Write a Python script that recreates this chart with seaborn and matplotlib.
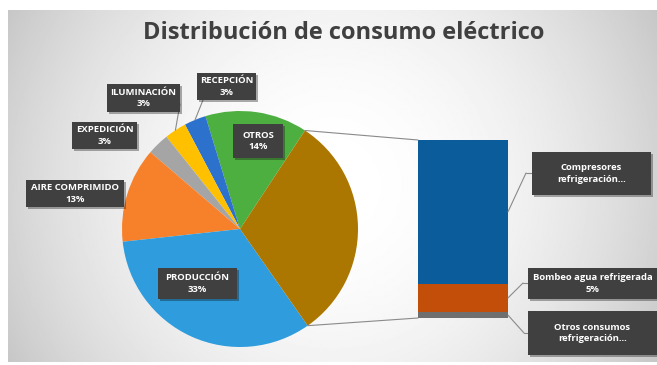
import numpy as np
import matplotlib
matplotlib.use("Agg")
import matplotlib.pyplot as plt
import matplotlib.patheffects as pe
from matplotlib.patches import Rectangle, ConnectionPatch
from matplotlib.lines import Line2D
import seaborn as sns

# Electricity consumption shares (%), counter-clockwise order around the pie
categories = ["OTROS", "RECEPCIÓN", "ILUMINACIÓN", "EXPEDICIÓN",
              "AIRE COMPRIMIDO", "PRODUCCIÓN", "REFRIGERACIÓN"]
shares = [14, 3, 3, 3, 13, 33, 31]
pie_colors = ["#4DAF3F", "#2C72CC", "#FFC000", "#A5A5A5",
              "#F7812B", "#2E9CDD", "#AC7700"]

# Breakdown of the refrigeration slice, bottom to top of the stacked bar
refrig_parts = ["Otros consumos refrigeración", "Bombeo agua refrigerada",
                "Compresores refrigeración"]
refrig_shares = [1, 5, 25]
refrig_colors = ["#6F6F6F", "#C24E0A", "#0B5C9B"]

sns.set_theme(style="white")
plt.rcParams["font.family"] = ["Open Sans", "DejaVu Sans"]

W, H = 657, 365
fig = plt.figure(figsize=(W / 100, H / 100), dpi=100)
fig.patch.set_facecolor("white")


def fx(x):
    return x / W


def fy(y):
    return 1 - y / H


# soft radial backdrop
bg = fig.add_axes([0, 0, 1, 1], zorder=-10)
gx = np.linspace(-1, 1, 600)
gy = np.linspace(-1, 1, 300)
XX, YY = np.meshgrid(gx, gy)
shade = 1 - 0.17 * XX ** 2 - 0.05 * YY ** 2
bg.imshow(shade, cmap="gray", vmin=0, vmax=1, aspect="auto",
          extent=(8, 657, 362, 10), interpolation="bilinear")
bg.set_xlim(0, W)
bg.set_ylim(H, 0)
bg.axis("off")

fig.text(fx(344), fy(33), "Distribución de consumo eléctrico", ha="center",
         va="center", fontsize=17, fontweight="bold", color="#404040")

# pie
cx, cy, r = 240, 229, 118
ax_pie = fig.add_axes([fx(cx - r), fy(cy + r), 2 * r / W, 2 * r / H])
wedges, _ = ax_pie.pie(shares, colors=pie_colors, startangle=56.6,
                       counterclock=True, radius=1,
                       wedgeprops=dict(linewidth=0))
ax_pie.set_xlim(-1, 1)
ax_pie.set_ylim(-1, 1)
ax_pie.set_aspect("equal")
ax_pie.axis("off")

# stacked bar for the refrigeration breakdown
ax_bar = fig.add_axes([fx(418), fy(318), 90 / W, 178 / H])
bottoms = np.concatenate([[0], np.cumsum(refrig_shares)[:-1]])
ax_bar.bar(0, refrig_shares, bottom=bottoms, width=1,
           color=refrig_colors, linewidth=0)
ax_bar.set_xlim(-0.5, 0.5)
ax_bar.set_ylim(0, sum(refrig_shares))
ax_bar.axis("off")

line_kw = dict(color="#8a8a8a", lw=0.8)

# connectors from the refrigeration wedge to the bar
ref = wedges[-1]
for ang, ybar in [(ref.theta2, sum(refrig_shares)), (ref.theta1, 0)]:
    t = np.deg2rad(ang)
    con = ConnectionPatch(xyA=(np.cos(t), np.sin(t)), coordsA="data", axesA=ax_pie,
                          xyB=(-0.5, ybar), coordsB="data", axesB=ax_bar, **line_kw)
    fig.add_artist(con)


def add_box(x0, y0, x1, y1, text):
    rect = Rectangle((fx(x0), fy(y1)), (x1 - x0) / W, (y1 - y0) / H,
                     transform=fig.transFigure, facecolor="#404040",
                     edgecolor="none", zorder=5,
                     path_effects=[pe.SimplePatchShadow(offset=(1.5, -1.5),
                                                        alpha=0.35),
                                   pe.Normal()])
    fig.add_artist(rect)
    fig.text(fx((x0 + x1) / 2), fy((y0 + y1) / 2), text, ha="center",
             va="center", fontsize=6.8, fontweight="bold", color="white",
             linespacing=1.4, zorder=6)


# pie labels: box extents in pixels, optional leader start point
pie_boxes = {
    "OTROS": ((233, 124, 283, 158), None),
    "RECEPCIÓN": ((197, 73, 256, 100), (203, 100)),
    "ILUMINACIÓN": ((107, 84, 180, 112), (180, 104)),
    "EXPEDICIÓN": ((72, 122, 137, 149), None),
    "AIRE COMPRIMIDO": ((26, 180, 124, 207), None),
    "PRODUCCIÓN": ((158, 268, 237, 299), None),
}
for name, val, w in zip(categories, shares, wedges):
    if name not in pie_boxes:
        continue
    box, lead = pie_boxes[name]
    add_box(*box, f"{name}\n{val}%")
    if lead is not None:
        t = np.deg2rad((w.theta1 + w.theta2) / 2)
        con = ConnectionPatch(xyA=(fx(lead[0]), fy(lead[1])), coordsA="figure fraction",
                              xyB=(np.cos(t), np.sin(t)), coordsB="data",
                              axesB=ax_pie, zorder=4, **line_kw)
        fig.add_artist(con)

# bar labels with elbow leaders
bar_boxes = [
    ((528, 311, 657, 355), (524, 333), "Otros consumos\nrefrigeración..."),
    ((528, 268, 657, 299), (523, 283),
     f"{refrig_parts[1]}\n{refrig_shares[1]}%"),
    ((532, 152, 651, 195), (526, 173), "Compresores\nrefrigeración..."),
]
for (box, elbow, text), b, v in zip(bar_boxes, bottoms, refrig_shares):
    add_box(*box, text)
    con = ConnectionPatch(xyA=(0.5, b + v / 2), coordsA="data", axesA=ax_bar,
                          xyB=(fx(elbow[0]), fy(elbow[1])),
                          coordsB="figure fraction", **line_kw)
    fig.add_artist(con)
    fig.add_artist(Line2D([fx(elbow[0]), fx(box[0])], [fy(elbow[1]), fy(elbow[1])],
                          transform=fig.transFigure, **line_kw))

fig.savefig("out.png", dpi=100)
